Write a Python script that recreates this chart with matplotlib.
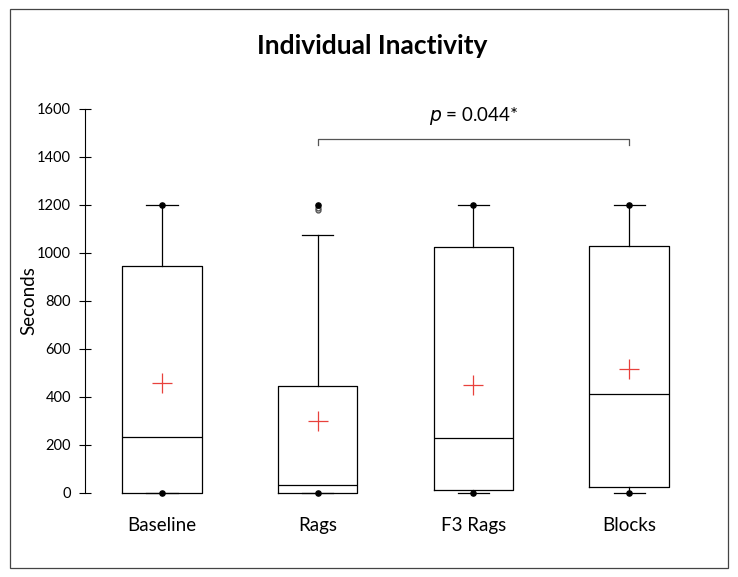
import matplotlib
matplotlib.use("Agg")
import matplotlib.pyplot as plt
from matplotlib.patches import Rectangle

plt.rcParams['font.family'] = ['Lato', 'DejaVu Sans']

# data
groups = ['Baseline', 'Rags', 'F3 Rags', 'Blocks']
q1 = [0, 0, 12, 25]
medians = [233, 33, 229, 412]
q3 = [946, 446, 1025, 1029]
whis_lo = [0, 0, 0, 0]
whis_hi = [1200, 1075, 1200, 1200]
means = [458, 300, 450, 517]
mins = [0, 0, 0, 0]
maxs = [1200, 1200, 1200, 1200]
outliers = [[], [1188, 1178], [], []]
yticks = [0, 200, 400, 600, 800, 1000, 1200, 1400, 1600]

fig = plt.figure(figsize=(7.38, 5.77), dpi=100)
ax = fig.add_axes([0.115, 0.1456, 0.843, 0.6655])

stats = []
for i, g in enumerate(groups):
    stats.append(dict(label=g, q1=q1[i], med=medians[i], q3=q3[i],
                      whislo=whis_lo[i], whishi=whis_hi[i], mean=means[i],
                      fliers=outliers[i]))

pos = list(range(1, len(groups) + 1))
bp = ax.bxp(stats, positions=pos, widths=0.51, showmeans=True, showfliers=True,
            boxprops=dict(color='black', linewidth=0.9),
            medianprops=dict(color='black', linewidth=0.9),
            whiskerprops=dict(color='black', linewidth=0.9),
            capprops=dict(color='black', linewidth=0.9),
            capwidths=0.2,
            meanprops=dict(marker='+', markeredgecolor='#e8413c', markersize=15,
                           markeredgewidth=0.9),
            flierprops=dict(marker='o', markerfacecolor='none',
                            markeredgecolor='#555555', markersize=3.5))
for key in bp:
    for art in bp[key]:
        art.set_clip_on(False)

ax.scatter(pos, mins, s=14, color='black', zorder=5, clip_on=False)
ax.scatter(pos, maxs, s=14, color='black', zorder=5, clip_on=False)

ax.set_xlim(0.505, 4.5)
ax.set_ylim(0, 1600)
ax.set_yticks(yticks)
ax.tick_params(axis='y', direction='inout', length=8, width=0.8,
               labelsize=10.5, pad=6)
ax.tick_params(axis='x', length=0, labelsize=13.5, pad=17)
ax.set_xticks(pos)
ax.set_xticklabels(groups)
for s in ['top', 'right', 'bottom']:
    ax.spines[s].set_visible(False)
ax.spines['left'].set_linewidth(0.8)
ax.set_ylabel('Seconds', fontsize=13.5, labelpad=0)

# significance bracket between Rags and Blocks
ax.plot([2, 2, 4, 4], [1450, 1475, 1475, 1450], color='#555555',
        linewidth=0.9, clip_on=False)
ax.text(3, 1525, r'$\it{p}$ = 0.044*', ha='center', va='bottom',
        fontsize=13.5)

fig.text(0.504, 0.92, 'Individual Inactivity', ha='center', va='center',
         fontsize=19, fontweight='bold')

fig.patches.append(Rectangle((10 / 738, 9 / 577), 718 / 738, 559 / 577,
                             transform=fig.transFigure, fill=False,
                             edgecolor='#444444', linewidth=0.9))

fig.savefig('out.png', dpi=100)
